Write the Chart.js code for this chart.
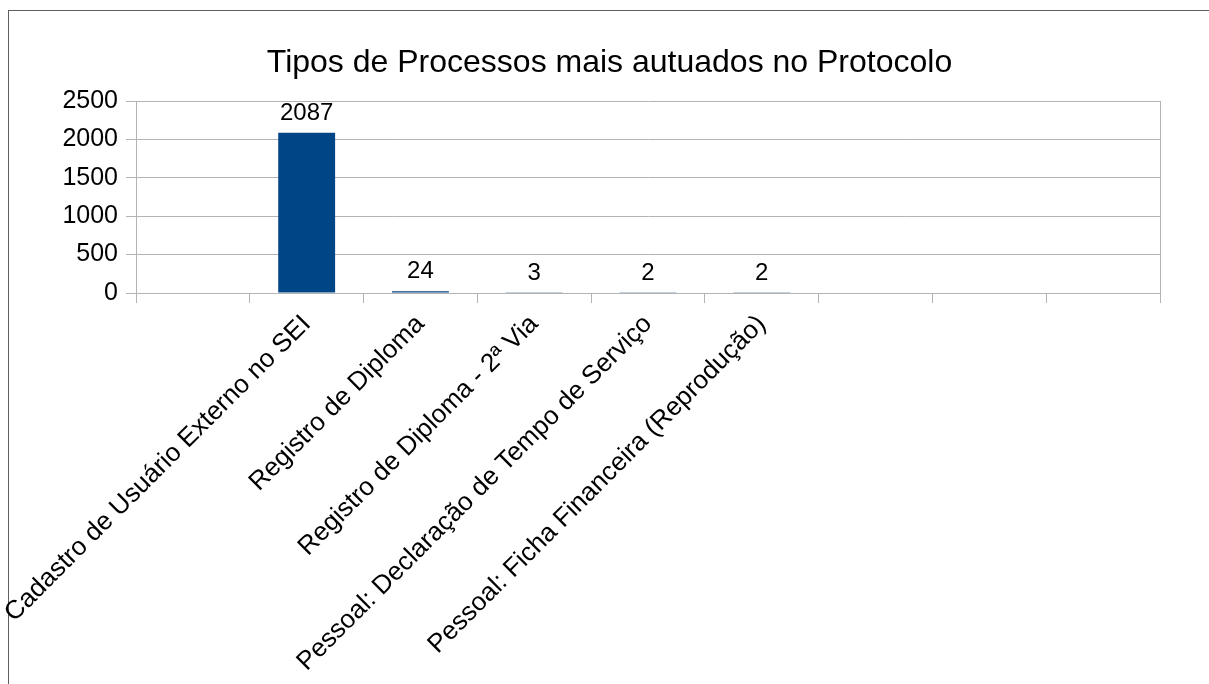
<!DOCTYPE html>
<html>
<head>
<meta charset="utf-8">
<script src="https://cdn.jsdelivr.net/npm/chart.js@4/dist/chart.umd.min.js"></script>
<style>
  html, body { margin: 0; padding: 0; background: #ffffff; }
  #wrap { width: 1209px; height: 684px; position: relative; }
</style>
</head>
<body>
<div id="wrap"><canvas id="c" width="1209" height="684"></canvas></div>
<script>
// Process types and how many of each were opened
const categories = [
  '',
  'Cadastro de Usuário Externo no SEI',
  'Registro de Diploma',
  'Registro de Diploma - 2ª Via',
  'Pessoal: Declaração de Tempo de Serviço',
  'Pessoal: Ficha Financeira (Reprodução)',
  '',
  '',
  ''
];
const counts = [null, 2087, 24, 3, 2, 2, null, null, null];
const yTicks = [0, 500, 1000, 1500, 2000, 2500];
const chartTitle = 'Tipos de Processos mais autuados no Protocolo';

const FONT = '"Liberation Sans", Arial, sans-serif';
const GRID = '#b3b3b3';
const BAR = '#004586';

// White page, dark frame, and the chart heading
const framePlugin = {
  id: 'frame',
  beforeDraw(chart) {
    const ctx = chart.ctx;
    ctx.save();
    ctx.fillStyle = '#ffffff';
    ctx.fillRect(0, 0, chart.width, chart.height);
    ctx.strokeStyle = '#5f5f5f';
    ctx.lineWidth = 1;
    ctx.strokeRect(8.5, 10.5, 1400, 1000);
    ctx.fillStyle = '#000000';
    ctx.font = '32px ' + FONT;
    ctx.textAlign = 'center';
    ctx.textBaseline = 'alphabetic';
    ctx.fillText(chartTitle, 609.5, 72);
    ctx.restore();
  },
  afterDatasetsDraw(chart) {
    // right edge of the plot, running down through the tick zone
    const a = chart.chartArea;
    const ctx = chart.ctx;
    ctx.save();
    ctx.strokeStyle = GRID;
    ctx.lineWidth = 1;
    ctx.beginPath();
    const x = Math.round(a.right) + 0.5;
    ctx.moveTo(x, a.top);
    ctx.lineTo(x, a.bottom + 10);
    ctx.stroke();
    ctx.restore();
  }
};

// Value printed above each bar
const valueLabels = {
  id: 'valueLabels',
  afterDatasetsDraw(chart) {
    const ctx = chart.ctx;
    const meta = chart.getDatasetMeta(0);
    ctx.save();
    ctx.fillStyle = '#000000';
    ctx.font = '24px ' + FONT;
    ctx.textAlign = 'center';
    ctx.textBaseline = 'alphabetic';
    meta.data.forEach((bar, i) => {
      const v = counts[i];
      if (v === null || v === undefined) return;
      ctx.fillText(String(v), bar.x, bar.y - 13);
    });
    ctx.restore();
  }
};

new Chart(document.getElementById('c'), {
  type: 'bar',
  data: {
    labels: categories,
    datasets: [{
      data: counts,
      backgroundColor: BAR,
      borderWidth: 0,
      categoryPercentage: 1,
      barPercentage: 0.5
    }]
  },
  options: {
    responsive: false,
    animation: false,
    events: [],
    layout: { padding: { left: 0, right: 49, top: 101, bottom: 0 } },
    plugins: {
      legend: { display: false },
      tooltip: { enabled: false },
      title: { display: false }
    },
    scales: {
      x: {
        offset: true,
        grid: {
          offset: true,
          drawOnChartArea: false,
          drawTicks: true,
          tickLength: 10,
          color: GRID
        },
        border: { display: true, color: GRID },
        ticks: {
          autoSkip: false,
          minRotation: 45,
          maxRotation: 45,
          padding: 6,
          color: '#000000',
          font: { family: FONT, size: 26 }
        },
        afterFit(scale) { scale.height = 391; }
      },
      y: {
        min: 0,
        max: 2500,
        afterBuildTicks(scale) { scale.ticks = yTicks.map(v => ({ value: v })); },
        grid: {
          color: GRID,
          tickLength: 10,
          drawTicks: true
        },
        border: { display: true, color: GRID },
        ticks: {
          padding: 8,
          color: '#000000',
          font: { family: FONT, size: 25 },
          callback: (v) => String(v)
        },
        afterFit(scale) { scale.width = 136; }
      }
    }
  },
  plugins: [framePlugin, valueLabels]
});
</script>
</body>
</html>
